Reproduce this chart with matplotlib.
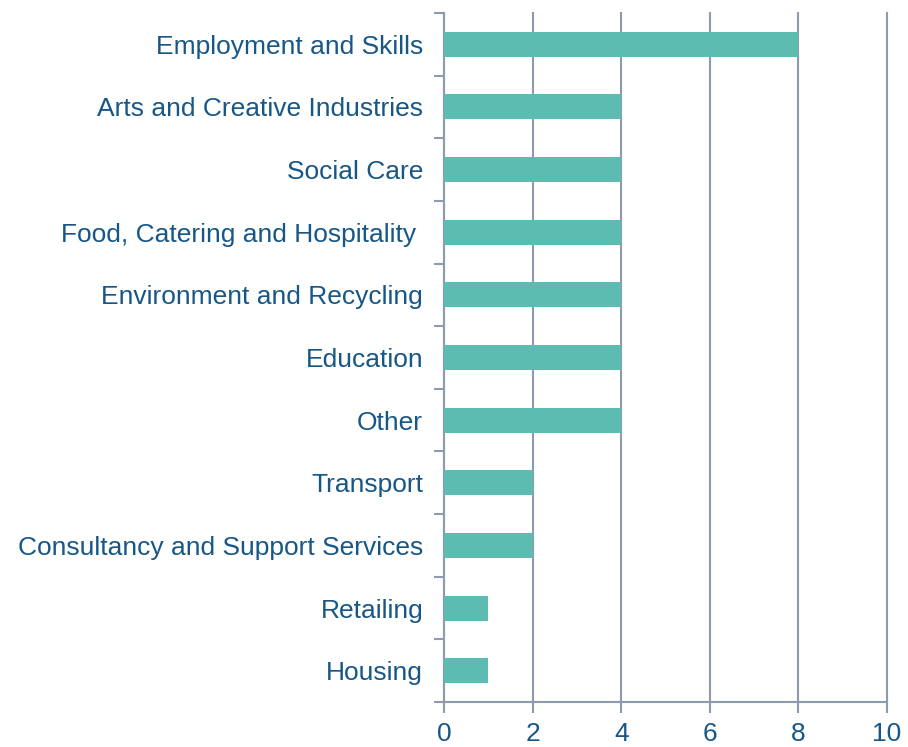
import matplotlib
matplotlib.use("Agg")
import matplotlib.pyplot as plt
import numpy as np

categories = ["Employment and Skills", "Arts and Creative Industries", "Social Care",
              "Food, Catering and Hospitality ", "Environment and Recycling", "Education",
              "Other", "Transport", "Consultancy and Support Services", "Retailing", "Housing"]
values = [8, 4, 4, 4, 4, 4, 4, 2, 2, 1, 1]
xticks = [0, 2, 4, 6, 8, 10]

plt.rcParams['font.family'] = ['Liberation Sans', 'DejaVu Sans']
txt = '#175787'
grid = '#8D9BB0'
bar_c = '#5CBCB1'

fig = plt.figure(figsize=(9.08, 7.47), dpi=100)
ax = fig.add_axes([444/908, 45/747, (887-444)/908, (702-13)/747])
n = len(categories)
y = np.arange(n)[::-1]
ax.barh(y, values, height=0.4, color=bar_c, zorder=3)
ax.set_xlim(0, 10)
ax.set_ylim(-0.5, n - 0.5)
ax.set_xticks(xticks)
ax.set_xticklabels([str(t) for t in xticks])
ax.set_yticks(y)
ax.set_yticklabels(categories)
ax.set_yticks(np.arange(n + 1) - 0.5, minor=True)
ax.tick_params(axis='y', which='major', length=0, pad=15, labelsize=19, labelcolor=txt)
ax.tick_params(axis='y', which='minor', length=7, width=1.5, color=grid)
ax.tick_params(axis='x', which='major', length=8, width=1.5, color=grid, labelsize=19, labelcolor=txt, pad=6.5)
ax.xaxis.grid(True, color=grid, linewidth=1.5, zorder=0)
for gl in ax.get_xgridlines():
    gl.set_clip_on(False)
for s in ['top', 'right']:
    ax.spines[s].set_visible(False)
for s in ['left', 'bottom']:
    ax.spines[s].set_color(grid)
    ax.spines[s].set_linewidth(1.5)
fig.savefig('out.png', dpi=100)
